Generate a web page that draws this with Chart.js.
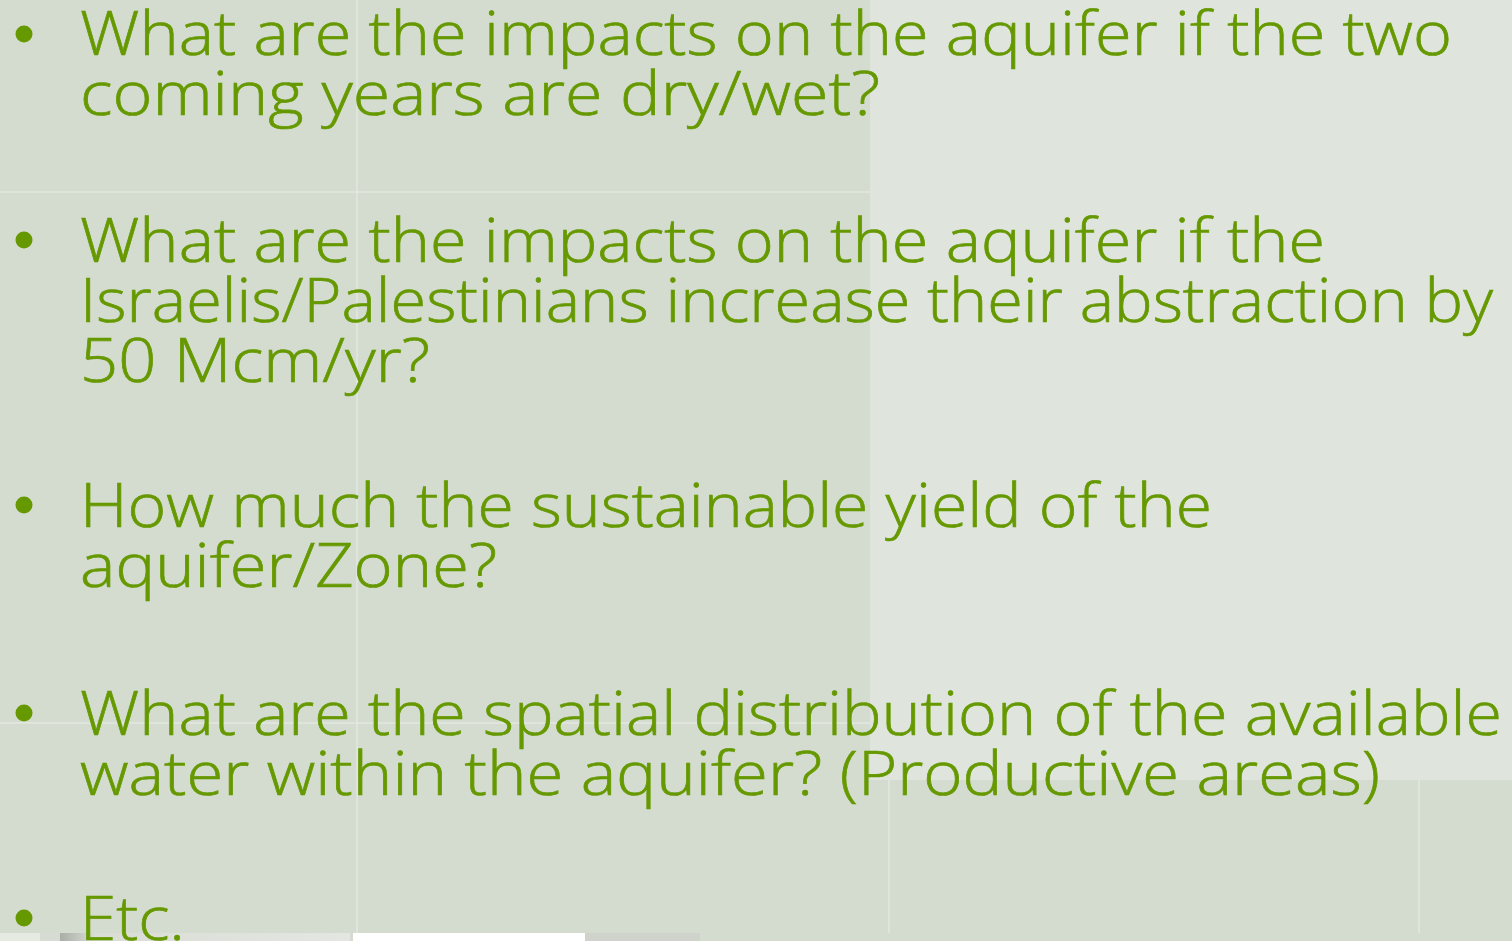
<!DOCTYPE html>
<html>
<head>
<meta charset="utf-8">
<title>Aquifer questions</title>
<script src="https://cdn.jsdelivr.net/npm/chart.js@4"></script>
<style>
  html, body { margin: 0; padding: 0; background: #d4dcd0; overflow: hidden; }
  #wrap { position: absolute; left: 0; top: 0; width: 1512px; height: 941px; }
  #slide { position: absolute; left: 0; top: 0; width: 1512px; height: 941px; pointer-events: none; }
  .line {
    position: absolute; left: 80px; white-space: nowrap;
    font-family: "Open Sans", sans-serif; font-weight: 300; font-size: 60px; line-height: 60px;
    color: #669900; -webkit-text-stroke: 0.7px #669900; transform-origin: 0 0;
  }
</style>
</head>
<body>
<div id="wrap"><canvas id="slideChart"></canvas></div>
<div id="slide"></div>
<script>
// bullet points (one per question)
const bulletX = [24, 24, 24, 24, 24];
const bulletY = [34, 240, 505, 713, 918];

// text lines: [text, baseline, right edge]
const lines = [
  ['What are the impacts on the aquifer if the two', 55, 1452],
  ['coming years are dry/wet?', 115, 880],
  ['What are the impacts on the aquifer if the', 262, 1325],
  ['Israelis/Palestinians increase their abstraction by', 322, 1493],
  ['50 Mcm/yr?', 382, 430],
  ['How much the sustainable yield of the', 527, 1212],
  ['aquifer/Zone?', 587, 497],
  ['What are the spatial distribution of the available', 735, 1502],
  ['water within the aquifer? (Productive areas)', 795, 1380],
  ['Etc.', 940, 185]
];

// background panels: x0, x1, y0, y1, colour
const panelX0 = [870, 0, 40, 60, 353, 585];
const panelX1 = [1512, 40, 60, 350, 585, 700];
const panelY0 = [0, 933, 933, 933, 933, 933];
const panelY1 = [780, 941, 941, 941, 941, 941];
const panelCol = ['#dfe5dd', '#e6ebe2', '#d6dbd3', 'grad', '#ffffff', '#cfd3cc'];

// thin light rules: x0, y0, x1, y1
const ruleX0 = [357, 0, 0, 889, 1419];
const ruleY0 = [0, 192, 723, 780, 780];
const ruleX1 = [357, 870, 870, 889, 1419];
const ruleY1 = [933, 192, 723, 933, 933];

const panelsPlugin = {
  id: 'panels',
  beforeDatasetsDraw(chart) {
    const { ctx, scales: { x, y } } = chart;
    ctx.save();
    for (let i = 0; i < panelX0.length; i++) {
      const l = x.getPixelForValue(panelX0[i]), r = x.getPixelForValue(panelX1[i]);
      const t = y.getPixelForValue(panelY0[i]), b = y.getPixelForValue(panelY1[i]);
      if (panelCol[i] === 'grad') {
        const g = ctx.createLinearGradient(l, 0, r, 0);
        g.addColorStop(0, '#a9aea6');
        g.addColorStop(0.12, '#d9ddd6');
        g.addColorStop(1, '#e4e7e1');
        ctx.fillStyle = g;
      } else {
        ctx.fillStyle = panelCol[i];
      }
      ctx.fillRect(l, t, r - l, b - t);
    }
    ctx.strokeStyle = '#e3e8e0';
    ctx.lineWidth = 1.5;
    for (let i = 0; i < ruleX0.length; i++) {
      ctx.beginPath();
      ctx.moveTo(x.getPixelForValue(ruleX0[i]), y.getPixelForValue(ruleY0[i]));
      ctx.lineTo(x.getPixelForValue(ruleX1[i]), y.getPixelForValue(ruleY1[i]));
      ctx.stroke();
    }
    ctx.restore();
  }
};

const canvas = document.getElementById('slideChart');
canvas.style.width = '1512px';
canvas.style.height = '941px';

new Chart(canvas, {
  type: 'scatter',
  data: {
    datasets: [{
      data: bulletX.map((v, i) => ({ x: v, y: bulletY[i] })),
      pointRadius: 8.5,
      pointBackgroundColor: '#669900',
      pointBorderWidth: 0
    }]
  },
  options: {
    responsive: false,
    animation: false,
    layout: { padding: 0, autoPadding: false },
    scales: {
      x: { type: 'linear', min: 0, max: 1512, display: false },
      y: { type: 'linear', min: 0, max: 941, reverse: true, display: false }
    },
    plugins: { legend: { display: false }, tooltip: { enabled: false } }
  },
  plugins: [panelsPlugin]
});

// text overlay, each line squeezed to the width it takes on the slide
const slide = document.getElementById('slide');
const spans = lines.map(([text, base]) => {
  const s = document.createElement('span');
  s.className = 'line';
  s.textContent = text;
  s.style.top = (base - 53) + 'px';
  slide.appendChild(s);
  return s;
});
function fit() {
  spans.forEach((s, i) => {
    s.style.transform = 'none';
    const w = s.getBoundingClientRect().width;
    s.style.transform = 'scaleX(' + ((lines[i][2] - 80) / w) + ')';
  });
}
fit();
if (document.fonts) document.fonts.ready.then(fit);
</script>
</body>
</html>
